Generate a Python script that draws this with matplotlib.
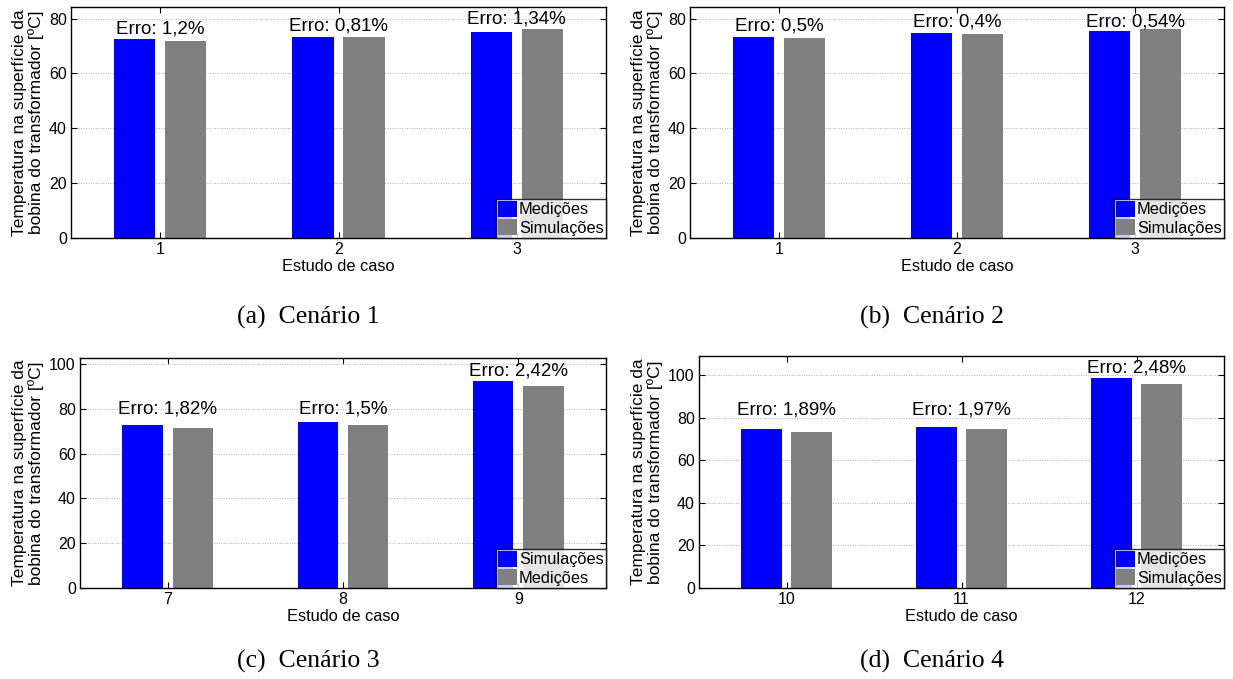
import matplotlib
matplotlib.use("Agg")
import matplotlib.pyplot as plt
from matplotlib.transforms import offset_copy

# ---- data -------------------------------------------------------------
cases_a = [1, 2, 3]
med_a = [72.7, 73.1, 75.2]
sim_a = [71.9, 73.4, 76.2]
err_a = ["1,2%", "0,81%", "1,34%"]

cases_b = [1, 2, 3]
med_b = [73.4, 74.6, 75.6]
sim_b = [73.0, 74.3, 76.0]
err_b = ["0,5%", "0,4%", "0,54%"]

cases_c = [7, 8, 9]
sim_c = [72.9, 74.3, 92.6]
med_c = [71.6, 72.9, 90.4]
err_c = ["1,82%", "1,5%", "2,42%"]

cases_d = [10, 11, 12]
med_d = [74.6, 75.8, 98.6]
sim_d = [73.2, 74.6, 95.8]
err_d = ["1,89%", "1,97%", "2,48%"]

captions = ["(a)  Cenário 1", "(b)  Cenário 2", "(c)  Cenário 3", "(d)  Cenário 4"]

# ---- style ------------------------------------------------------------
W, H = 1233, 679
BLUE = "#0000FF"
GRAY = "#808080"
SANS = "Liberation Sans"
SERIF = "Liberation Serif"
plt.rcParams["font.family"] = [SANS, "DejaVu Sans"]

YLABEL = "Temperatura na superfície da\nbobina do transformador [ºC]"

fig = plt.figure(figsize=(W / 100, H / 100), dpi=100)


def px_axes(left, right, top, bottom):
    return fig.add_axes([left / W, 1 - bottom / H, (right - left) / W, (bottom - top) / H])


def panel(box, ylabel_x, cases, blue_vals, gray_vals, errs, labels, ymax, yticks, lbl_off_px):
    left, right, top, bottom = box
    ax = px_axes(left, right, top, bottom)
    width = 0.23
    off = 0.143
    xb = [c - off for c in cases]
    xg = [c + off for c in cases]
    ax.bar(xb, blue_vals, width, color=BLUE, linewidth=0, label=labels[0], zorder=3)
    ax.bar(xg, gray_vals, width, color=GRAY, linewidth=0, label=labels[1], zorder=3)

    ax.set_xlim(cases[0] - 0.5, cases[-1] + 0.5)
    ax.set_ylim(0, ymax)
    ax.set_xticks(cases)
    ax.set_xticklabels([str(c) for c in cases])
    ax.set_yticks(yticks)
    ax.set_yticklabels([str(t) for t in yticks])
    ax.tick_params(direction="in", length=4, width=0.8, top=True, right=True,
                   labelsize=11.5, pad=3, colors="black")
    ax.grid(axis="y", linestyle=(0, (1, 1.5)), color="#b0b0b0", linewidth=0.7, zorder=0)
    for s in ax.spines.values():
        s.set_linewidth(1.0)
        s.set_color("black")
        s.set_zorder(4)

    for c, b, g, e, o in zip(cases, blue_vals, gray_vals, errs, lbl_off_px):
        tr = offset_copy(ax.transData, fig=fig, x=0, y=o, units="dots")
        ax.text(c, max(b, g), "Erro: " + e, ha="center", va="baseline",
                fontsize=13.5, transform=tr, zorder=5)

    ax.set_xlabel("Estudo de caso", fontsize=11.8, labelpad=1)
    ax.set_ylabel(YLABEL, fontsize=12.5, va="center", linespacing=1.1)
    ax.yaxis.set_label_coords((ylabel_x - left) / (right - left), 0.5)

    leg = ax.legend(loc="lower right", fontsize=11.8, frameon=True, fancybox=False,
                    borderaxespad=0, borderpad=0.15, labelspacing=0.1,
                    handlelength=1.15, handleheight=1.1, handletextpad=0.12)
    leg.get_frame().set_edgecolor("black")
    leg.get_frame().set_linewidth(1.0)
    leg.set_zorder(6)
    return ax


panel((71, 606, 7, 238), 28, cases_a, med_a, sim_a, err_a, ["Medições", "Simulações"],
      84.2, [0, 20, 40, 60, 80], [5, 6, 5])
panel((690, 1224, 7, 238), 647, cases_b, med_b, sim_b, err_b, ["Medições", "Simulações"],
      84.2, [0, 20, 40, 60, 80], [6, 7, 3])
panel((80, 606, 358, 588), 28, cases_c, sim_c, med_c, err_c, ["Simulações", "Medições"],
      102.7, [0, 20, 40, 60, 80, 100], [11, 8, 5])
panel((699, 1224, 356, 588), 647, cases_d, med_d, sim_d, err_d, ["Medições", "Simulações"],
      108.9, [0, 20, 40, 60, 80, 100], [15, 12, 5])

cap_pos = [(308, 317), (932, 317), (308, 661), (932, 661)]
for (cx, cy), txt in zip(cap_pos, captions):
    fig.text(cx / W, 1 - cy / H, txt, ha="center", va="center",
             fontsize=18.5, family=[SERIF, "DejaVu Serif"])

fig.savefig("out.png", dpi=100, facecolor="white")
